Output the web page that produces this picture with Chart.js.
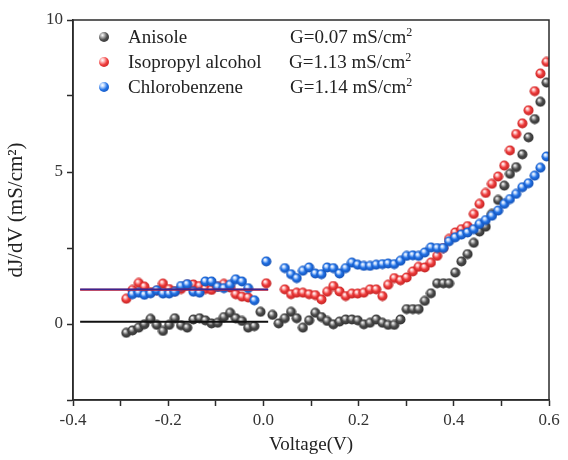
<!DOCTYPE html>
<html>
<head>
<meta charset="utf-8">
<script src="https://cdn.jsdelivr.net/npm/chart.js@4"></script>
<style>
  body { margin: 0; background: #fff; }
  #wrap { position: relative; width: 568px; height: 460px; }
  #legend { position: absolute; left: 0; top: 0; font-family: "Liberation Serif", serif; font-size: 19px; color: #222; }
  .row { position: absolute; height: 20px; line-height: 20px; white-space: nowrap; }
  .ball { position: absolute; width: 10px; height: 10px; border-radius: 50%; }
  .name { position: absolute; }
  .gval { position: absolute; }
  sup { font-size: 12px; line-height: 0; }
</style>
</head>
<body>
<div id="wrap">
  <canvas id="chart" width="568" height="460"></canvas>
  <div id="legend"></div>
</div>
<script>
// voltage sweep (V)
var volts = [-0.288, -0.275, -0.262, -0.250, -0.237, -0.224, -0.211, -0.198, -0.186, -0.173,
             -0.160, -0.147, -0.134, -0.122, -0.109, -0.096, -0.083, -0.070, -0.058, -0.045,
             -0.032, -0.019, -0.006, 0.006, 0.019, 0.032, 0.045, 0.058, 0.070, 0.083,
             0.096, 0.109, 0.122, 0.134, 0.147, 0.160, 0.173, 0.186, 0.198, 0.211,
             0.224, 0.237, 0.250, 0.262, 0.275, 0.288, 0.301, 0.314, 0.326, 0.339,
             0.352, 0.365, 0.378, 0.390, 0.403, 0.416, 0.429, 0.442, 0.454, 0.467,
             0.480, 0.493, 0.506, 0.518, 0.531, 0.544, 0.557, 0.570, 0.582, 0.595];

// dJ/dV (mS/cm2)
var anisole = [-0.29, -0.21, -0.12, -0.01, 0.17, -0.03, -0.23, -0.03, 0.19, -0.04,
               -0.12, 0.15, 0.19, 0.12, 0.02, 0.04, 0.23, 0.37, 0.19, 0.10,
               -0.12, -0.07, 0.40, null, 0.30, 0.02, 0.19, 0.40, 0.19, -0.12,
               0.12, 0.37, 0.23, 0.10, -0.01, 0.08, 0.15, 0.15, 0.12, -0.01,
               0.04, 0.15, 0.04, -0.03, -0.03, 0.15, 0.49, 0.49, 0.49, 0.76,
               1.01, 1.34, 1.34, 1.34, 1.69, 2.06, 2.30, 2.67, 3.04, 3.20,
               3.62, 4.08, 4.55, 4.94, 5.16, 5.58, 6.14, 6.74, 7.31, 7.94];

var isopropyl = [0.83, 1.12, 1.35, 1.23, 1.05, 1.10, 1.33, 1.15, 1.08, 1.15,
                 1.30, 1.30, 1.25, 1.15, 1.12, 1.22, 1.32, 1.20, 0.98, 0.90,
                 0.87, null, null, 1.34, null, null, 1.14, 0.98, 1.03, 1.03,
                 0.98, 0.95, 0.81, 1.06, 1.25, 1.07, 0.92, 1.00, 1.00, 1.03,
                 1.14, 1.14, 0.92, 1.29, 1.51, 1.44, 1.53, 1.73, 1.88, 1.86,
                 2.02, 2.24, 2.50, 2.80, 3.01, 3.12, 3.22, 3.62, 3.95, 4.31,
                 4.61, 4.85, 5.21, 5.71, 6.25, 6.60, 7.03, 7.66, 8.24, 8.62];

var chlorobenzene = [null, 0.98, 1.03, 0.96, 1.01, 1.11, 1.00, 1.00, 1.06, 1.25,
                     1.31, 1.06, 1.03, 1.40, 1.40, 1.22, 1.18, 1.29, 1.47, 1.40,
                     1.18, 0.78, null, 2.06, null, null, 1.84, 1.64, 1.51, 1.75,
                     1.86, 1.66, 1.64, 1.86, 1.84, 1.66, 1.84, 2.02, 1.95, 1.91,
                     1.91, 1.95, 1.97, 1.99, 1.97, 2.08, 2.24, 2.26, 2.24, 2.35,
                     2.52, 2.50, 2.50, 2.72, 2.85, 2.94, 3.01, 3.12, 3.29, 3.42,
                     3.56, 3.73, 3.95, 4.11, 4.28, 4.50, 4.63, 4.88, 5.14, 5.51];

var seriesNames = ['Anisole', 'Isopropyl alcohol', 'Chlorobenzene'];
var gValues = [0.07, 1.13, 1.14];      // fitted conductance, mS/cm2
var gLineX = [-0.385, 0.01];           // span of the fitted G lines

var ballColors = [
    { hi: '#bdbdbd', mid: '#4d4d4d', lo: '#2a2a2a' },
    { hi: '#ffc4c4', mid: '#ef3d3d', lo: '#b81c1c' },
    { hi: '#c3dcff', mid: '#2272e6', lo: '#1048a8' }
];
var lineColors = ['#111111', '#e0262b', '#3a2590'];

function ball(c) {
    var cv = document.createElement('canvas');
    cv.width = 11; cv.height = 11;
    var g = cv.getContext('2d');
    var gr = g.createRadialGradient(4, 3.6, 0.3, 5.5, 5.5, 5.6);
    gr.addColorStop(0, '#ffffff');
    gr.addColorStop(0.18, c.hi);
    gr.addColorStop(0.5, c.mid);
    gr.addColorStop(1, c.lo);
    g.fillStyle = gr;
    g.beginPath();
    g.arc(5.5, 5.5, 5, 0, Math.PI * 2);
    g.fill();
    return cv;
}

function pts(ys) {
    var out = [];
    for (var i = 0; i < volts.length; i++) {
        if (ys[i] !== null) out.push({ x: volts[i], y: ys[i] });
    }
    return out;
}

function gLine(k) {
    return {
        type: 'line',
        label: 'G ' + seriesNames[k],
        data: [{ x: gLineX[0], y: gValues[k] }, { x: gLineX[1], y: gValues[k] }],
        borderColor: lineColors[k],
        borderWidth: k === 2 ? 1.6 : 2,
        pointRadius: 0,
        showLine: true,
        order: 0
    };
}

var balls = ballColors.map(ball);
var allY = [anisole, isopropyl, chlorobenzene];

var datasets = [gLine(0), gLine(2), gLine(1)];
// blue drawn last (on top), gray first
[0, 1, 2].forEach(function(k) {
    datasets.push({
        type: 'scatter',
        label: seriesNames[k],
        data: pts(allY[k]),
        pointStyle: balls[k],
        pointRadius: 5,
        pointHoverRadius: 5,
        order: 3 - k
    });
});

var frame = {
    id: 'frame',
    afterDraw: function(chart) {
        var a = chart.chartArea, ctx = chart.ctx;
        ctx.save();
        ctx.strokeStyle = '#2b2b2b';
        ctx.lineWidth = 1.5;
        ctx.strokeRect(a.left, a.top, a.right - a.left, a.bottom - a.top);
        ctx.restore();
    }
};

var serif = 'Liberation Serif';
var axisCol = '#2b2b2b';

new Chart(document.getElementById('chart'), {
    type: 'scatter',
    data: { datasets: datasets },
    options: {
        responsive: false,
        animation: false,
        devicePixelRatio: 1,
        layout: { padding: { top: 20, right: 19, left: 0, bottom: 0 } },
        plugins: { legend: { display: false }, tooltip: { enabled: false } },
        scales: {
            x: {
                type: 'linear', min: -0.4, max: 0.6,
                afterFit: function(s) { s.height = 60; },
                border: { display: true, color: axisCol, width: 1.5 },
                grid: { drawOnChartArea: false, drawTicks: true, tickLength: 6, tickWidth: 1.5, tickColor: axisCol },
                ticks: {
                    stepSize: 0.1, color: '#333', padding: 4,
                    font: { family: serif, size: 17 },
                    callback: function(v) {
                        var n = Math.round(v * 10);
                        if (n % 2 !== 0) return '';
                        return (n / 10).toFixed(1);
                    }
                },
                title: { display: true, text: 'Voltage(V)', color: '#222', font: { family: serif, size: 19 }, padding: { top: 4 } }
            },
            y: {
                type: 'linear', min: -2.5, max: 10,
                afterFit: function(s) { s.width = 73; },
                border: { display: true, color: axisCol, width: 1.5 },
                grid: { drawOnChartArea: false, drawTicks: true, tickLength: 6, tickWidth: 1.5, tickColor: axisCol },
                ticks: {
                    stepSize: 2.5, color: '#333', padding: 4,
                    font: { family: serif, size: 17 },
                    callback: function(v) { return v % 5 === 0 ? String(v) : ''; }
                },
                title: { display: true, text: 'dJ/dV (mS/cm²)', color: '#222', font: { family: serif, size: 21 }, padding: { bottom: 2 } }
            }
        }
    },
    plugins: [frame]
});

// html legend, names + fitted G
var leg = document.getElementById('legend');
var rowY = [37, 62, 87];
var gX = [290, 289, 290];
seriesNames.forEach(function(name, k) {
    var c = ballColors[k];
    var row = document.createElement('div');
    row.className = 'row';
    row.style.top = (rowY[k] - 10) + 'px';
    row.style.left = '0px';
    row.innerHTML =
        '<span class="ball" style="left:99px;top:5px;background:radial-gradient(circle at 35% 32%, #fff 0%, ' + c.hi + ' 18%, ' + c.mid + ' 50%, ' + c.lo + ' 100%)"></span>' +
        '<span class="name" style="left:128px">' + name + '</span>' +
        '<span class="gval" style="left:' + gX[k] + 'px">G=' + gValues[k].toFixed(2) + ' mS/cm<sup>2</sup></span>';
    leg.appendChild(row);
});
</script>
</body>
</html>
